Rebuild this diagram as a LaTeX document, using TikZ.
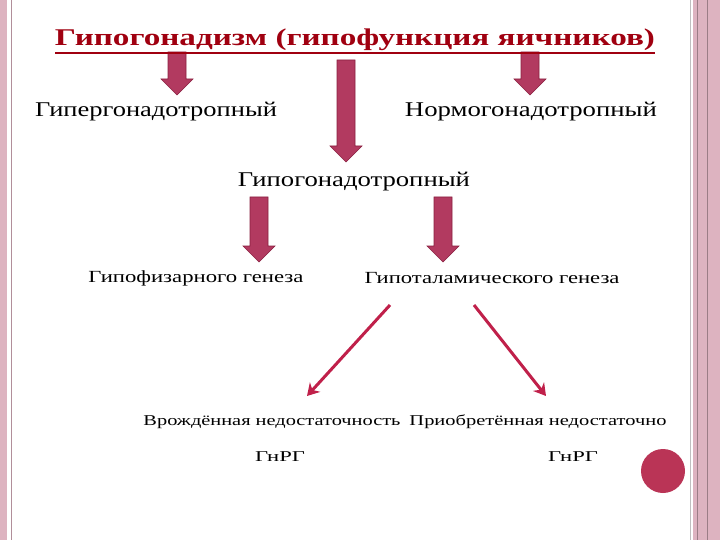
\documentclass[tikz,border=0pt]{standalone}
\usepackage{fontspec}
\usepackage{graphicx}
\setmainfont{Liberation Serif}
\definecolor{barr}{HTML}{B23A60}
\definecolor{barrd}{HTML}{8A2040}
\definecolor{thin}{HTML}{C0204A}
\definecolor{pinkb}{HTML}{DDB3C0}
\definecolor{ttl}{HTML}{A00010}
\tikzset{
  blk/.style={fill=barr,draw=barrd,line width=0.6pt},
  lbl/.style={inner sep=0pt,anchor=center},
  thinarr/.style={draw=thin,line width=3pt,-{Stealth[length=12pt,width=14pt]}}
}
\usetikzlibrary{arrows.meta}
\newcommand{\blkarrow}[3]{% x, top, bottom
  \path[blk] (#1-9,#2) -- (#1+9,#2) -- (#1+9,#3-16) -- (#1+16,#3-16) -- (#1,#3) -- (#1-16,#3-16) -- (#1-9,#3-16) -- cycle;}
\newcommand{\mywd}[2]{\resizebox{#1pt}{\height}{#2}}
\begin{document}
\begin{tikzpicture}[x=1pt,y=-1pt]
\useasboundingbox (0,0) rectangle (720,540);
\fill[white] (0,0) rectangle (720,540);
% borders
\fill[pinkb] (0,0) rectangle (7,540);
\draw[pinkb!80!black,line width=0.8pt] (11,0) -- (11,540);
\draw[gray!50,line width=0.8pt] (690,0) -- (690,540);
\fill[pinkb] (693,0) rectangle (720,540);
\draw[pinkb!70!black,line width=0.8pt] (697,0) -- (697,540);
\draw[pinkb!70!black,line width=0.8pt] (707,0) -- (707,540);
% block arrows
\blkarrow{177}{52}{95}
\blkarrow{346}{60}{162}
\blkarrow{530}{52}{95}
\blkarrow{259}{197}{262}
\blkarrow{443}{197}{262}
% texts
\node[lbl,text=ttl,font=\fontsize{24}{28}\selectfont\bfseries] (t) at (355,40) {\mywd{600}{Гипогонадизм (гипофункция яичников)}};
\draw[ttl,line width=1.2pt] (55,53) -- (655,53);
\node[lbl,font=\fontsize{21}{24}\selectfont] (a) at (156,112) {\mywd{242}{Гипергонадотропный}};
\node[lbl,font=\fontsize{21}{24}\selectfont] (b) at (531,112) {\mywd{252}{Нормогонадотропный}};
\node[lbl,font=\fontsize{21}{24}\selectfont] (c) at (354,182) {\mywd{232}{Гипогонадотропный}};
\node[lbl,font=\fontsize{17}{20}\selectfont] (d) at (196,278) {\mywd{215}{Гипофизарного генеза}};
\node[lbl,font=\fontsize{17}{20}\selectfont] (e) at (492,278) {\mywd{255}{Гипоталамического генеза}};
\node[lbl,font=\fontsize{15}{18}\selectfont] (f) at (272,422) {\mywd{257}{Врождённая недостаточность}};
\node[lbl,font=\fontsize{15}{18}\selectfont] (g) at (538,422) {\mywd{257}{Приобретённая недостаточно}};
\node[lbl,font=\fontsize{15}{18}\selectfont] (h) at (280,457) {\mywd{50}{ГнРГ}};
\node[lbl,font=\fontsize{15}{18}\selectfont] (i) at (573,457) {\mywd{50}{ГнРГ}};
\coordinate (s1) at (390,305); \coordinate (e1) at (307,396);
\coordinate (s2) at (474,305); \coordinate (e2) at (546,396);
\draw[thinarr] (s1) -- (e1);
\draw[thinarr] (s2) -- (e2);
\fill[barr!90!red] (663,471) circle (22);
\end{tikzpicture}
\end{document}
